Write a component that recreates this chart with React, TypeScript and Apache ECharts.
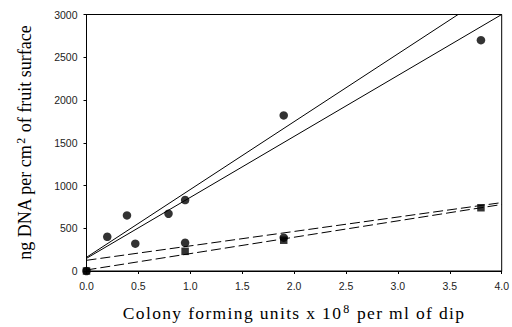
import React, { useEffect, useRef } from "react";
import * as echarts from "echarts";

const xTicks = [0, 0.5, 1, 1.5, 2, 2.5, 3, 3.5, 4];
const circleX = [0, 0.2, 0.39, 0.47, 0.79, 0.95, 0.95, 1.9, 1.9, 3.8];
const circleY = [0, 400, 650, 320, 670, 830, 330, 1820, 390, 2700];
const squareX = [0, 0.95, 1.9, 3.8];
const squareY = [0, 230, 360, 740];
const fitSteepX = [0, 3.58];
const fitSteepY = [160, 3000];
const fitSolidX = [0, 4];
const fitSolidY = [148, 3000];
const fitDashUpperX = [0, 4];
const fitDashUpperY = [125, 800];
const fitDashLowerX = [0, 4];
const fitDashLowerY = [12, 778];

const xTitleBefore = "Colony forming units x 10";
const xTitleSup = "8";
const xTitleAfter = " per ml of dip";
const yTitleBefore = "ng DNA per cm";
const yTitleSup = "2";
const yTitleAfter = " of fruit surface";

const serif = "'Liberation Serif', 'Times New Roman', serif";
const sans = "'Liberation Sans', Arial, sans-serif";

const pairs = (xs: number[], ys: number[]) => xs.map((x, i) => [x, ys[i]]);
const spaced = (s: string, style: string) =>
  s
    .split("")
    .map((c) => `{${style}|${c}}`)
    .join("");

export default function App() {
  const ref = useRef<HTMLDivElement>(null);
  useEffect(() => {
    if (!ref.current) return;
    const chart = echarts.init(ref.current, null, { renderer: "svg" });
    const lineSeries = (xs: number[], ys: number[], dashed: boolean) => ({
      type: "line",
      data: pairs(xs, ys),
      symbol: "none",
      clip: true,
      lineStyle: { color: "#000", width: 1, type: dashed ? [10, 4] : "solid" },
      z: 2,
    });
    chart.setOption({
      animation: false,
      grid: {
        left: 86.5,
        right: 9.5,
        top: 14.5,
        bottom: 56,
        show: true,
        borderColor: "#000",
        borderWidth: 1,
      },
      xAxis: {
        type: "value",
        min: 0,
        max: 4,
        interval: 0.5,
        splitLine: { show: false },
        axisLine: { show: true, lineStyle: { color: "#000" } },
        axisTick: { show: true, length: 3, lineStyle: { color: "#000" } },
        axisLabel: {
          color: "#222",
          fontFamily: sans,
          fontSize: 10.5,
          margin: 9,
          formatter: (v: number) => v.toFixed(1),
          customValues: xTicks,
        },
        name:
          spaced(xTitleBefore, "a") + `{s|${xTitleSup}}` + spaced(xTitleAfter, "a"),
        nameLocation: "middle",
        nameGap: 32,
        nameTextStyle: {
          rich: {
            a: {
              fontFamily: serif,
              fontSize: 17.5,
              color: "#000",
              lineHeight: 20,
              padding: [0, 1.35, 0, 0],
            },
            s: {
              fontFamily: serif,
              fontSize: 12,
              color: "#000",
              lineHeight: 13,
              verticalAlign: "top",
              padding: [0, 2, 0, 1],
            },
          },
        },
      },
      yAxis: {
        type: "value",
        min: 0,
        max: 3000,
        interval: 500,
        splitLine: { show: false },
        axisLine: { show: true, lineStyle: { color: "#000" } },
        axisTick: { show: true, length: 3, lineStyle: { color: "#000" } },
        axisLabel: {
          color: "#222",
          fontFamily: sans,
          fontSize: 10.5,
          margin: 9,
          formatter: (v: number) => String(v),
        },
        name: `{a|${yTitleBefore}}{s|${yTitleSup}}{a|${yTitleAfter}}`,
        nameLocation: "middle",
        nameRotate: 90,
        nameGap: 52,
        nameTextStyle: {
          rich: {
            a: { fontFamily: serif, fontSize: 18, color: "#000", lineHeight: 20 },
            s: {
              fontFamily: serif,
              fontSize: 12,
              color: "#000",
              lineHeight: 13,
              verticalAlign: "top",
              padding: [0, 1, 0, 1],
            },
          },
        },
      },
      series: [
        lineSeries(fitSteepX, fitSteepY, false),
        lineSeries(fitSolidX, fitSolidY, false),
        lineSeries(fitDashUpperX, fitDashUpperY, true),
        lineSeries(fitDashLowerX, fitDashLowerY, true),
        {
          type: "scatter",
          data: pairs(circleX, circleY),
          symbol: "circle",
          symbolSize: 8.5,
          itemStyle: { color: "#000" },
          clip: false,
          z: 3,
        },
        {
          type: "scatter",
          data: pairs(squareX, squareY),
          symbol: "rect",
          symbolSize: 7.5,
          itemStyle: { color: "#000" },
          clip: false,
          z: 3,
        },
      ],
    });
    return () => chart.dispose();
  }, []);
  return (
    <div
      ref={ref}
      style={{ position: "fixed", left: 0, top: 0, width: 512, height: 327, background: "#fff" }}
    />
  );
}
